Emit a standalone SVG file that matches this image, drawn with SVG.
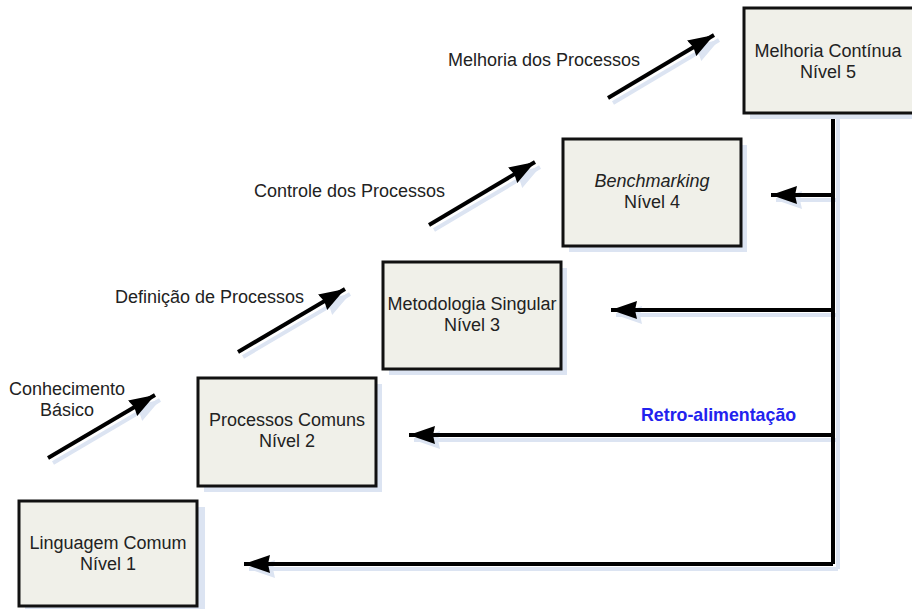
<svg xmlns="http://www.w3.org/2000/svg" width="912" height="609" viewBox="0 0 912 609">
  <style>
    .box { fill: #f0f0e9; stroke: #111; stroke-width: 3; }
    .boxsh { fill: #dce4f2; }
    .lbl { font-family: "Liberation Sans", Arial, sans-serif; font-size: 18px; fill: #222; text-anchor: middle; }
    .cap { font-family: "Liberation Sans", Arial, sans-serif; font-size: 18px; fill: #222; }
    .fb { font-family: "Liberation Sans", Arial, sans-serif; font-size: 17.8px; font-weight: bold; fill: #2222ee; }
    .ln { fill: none; stroke: #000; stroke-width: 4; }
    .lnsh { fill: none; stroke: #dce4f2; stroke-width: 4; }
  </style>
  <defs>
    <marker id="head" markerUnits="userSpaceOnUse" markerWidth="28" markerHeight="20" refX="26" refY="10" orient="auto">
      <path d="M0,1 L26,10 L0,19 L2,10 Z" fill="#000"/>
    </marker>
    <marker id="headsh" markerUnits="userSpaceOnUse" markerWidth="28" markerHeight="20" refX="26" refY="10" orient="auto">
      <path d="M0,1 L26,10 L0,19 L2,10 Z" fill="#dce4f2"/>
    </marker>
  </defs>
  <rect width="912" height="609" fill="#fff"/>

  <!-- feedback connectors and step arrows -->
  <g id="connectors">
    <!-- shadows -->
    <g transform="translate(5,5)">
      <path class="lnsh" d="M833,113 V564"/>
      <path class="lnsh" d="M833,195 H771" marker-end="url(#headsh)"/>
      <path class="lnsh" d="M833,310 H611" marker-end="url(#headsh)"/>
      <path class="lnsh" d="M833,435 H409" marker-end="url(#headsh)"/>
      <path class="lnsh" d="M833,564 H244" marker-end="url(#headsh)"/>
      <path class="lnsh" d="M48,458 L155,395" marker-end="url(#headsh)"/>
      <path class="lnsh" d="M238,352 L345,289" marker-end="url(#headsh)"/>
      <path class="lnsh" d="M429,225 L535,162" marker-end="url(#headsh)"/>
      <path class="lnsh" d="M608,98 L714,35" marker-end="url(#headsh)"/>
    </g>
    <path class="ln" d="M833,113 V564"/>
    <path class="ln" d="M833,195 H771" marker-end="url(#head)"/>
    <path class="ln" d="M833,310 H611" marker-end="url(#head)"/>
    <path class="ln" d="M833,435 H409" marker-end="url(#head)"/>
    <path class="ln" d="M833,564 H244" marker-end="url(#head)"/>
    <path class="ln" d="M48,458 L155,395" marker-end="url(#head)"/>
    <path class="ln" d="M238,352 L345,289" marker-end="url(#head)"/>
    <path class="ln" d="M429,225 L535,162" marker-end="url(#head)"/>
    <path class="ln" d="M608,98 L714,35" marker-end="url(#head)"/>
  </g>

  <!-- step captions -->
  <g id="captions">
    <text class="lbl" x="67" y="395">Conhecimento</text>
    <text class="lbl" x="67" y="416">Básico</text>
    <text class="cap" x="115" y="303">Definição de Processos</text>
    <text class="cap" x="254" y="197">Controle dos Processos</text>
    <text class="cap" x="448" y="66">Melhoria dos Processos</text>
    <text class="fb" x="641" y="421">Retro-alimentação</text>
  </g>

  <g id="nivel1">
    <rect class="boxsh" x="25" y="507" width="180" height="108"/>
    <rect class="box" x="19" y="501" width="178" height="105"/>
    <text class="lbl" x="108" y="549">Linguagem Comum</text>
    <text class="lbl" x="108" y="570">Nível 1</text>
  </g>

  <g id="nivel2">
    <rect class="boxsh" x="204" y="384" width="178" height="108"/>
    <rect class="box" x="198" y="378" width="178" height="108"/>
    <text class="lbl" x="287" y="426">Processos Comuns</text>
    <text class="lbl" x="287" y="447">Nível 2</text>
  </g>

  <g id="nivel3">
    <rect class="boxsh" x="389" y="268" width="178" height="107"/>
    <rect class="box" x="383" y="262" width="178" height="107"/>
    <text class="lbl" x="472" y="310">Metodologia Singular</text>
    <text class="lbl" x="472" y="331">Nível 3</text>
  </g>

  <g id="nivel4">
    <rect class="boxsh" x="569" y="145" width="178" height="107"/>
    <rect class="box" x="563" y="139" width="178" height="107"/>
    <text class="lbl" x="652" y="187" font-style="italic">Benchmarking</text>
    <text class="lbl" x="652" y="208">Nível 4</text>
  </g>

  <g id="nivel5">
    <rect class="boxsh" x="750" y="14" width="180" height="105"/>
    <rect class="box" x="744" y="8" width="180" height="105"/>
    <text class="lbl" x="828" y="57">Melhoria Contínua</text>
    <text class="lbl" x="828" y="78">Nível 5</text>
  </g>
</svg>
